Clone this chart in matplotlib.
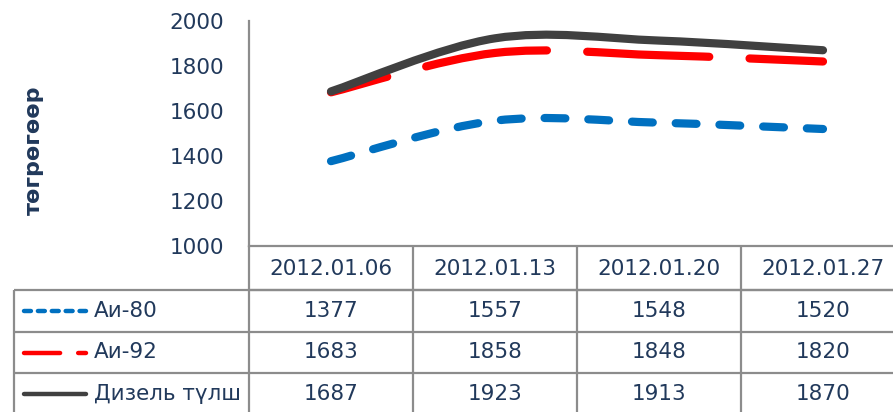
import matplotlib
matplotlib.use("Agg")
import matplotlib.pyplot as plt
import numpy as np
from matplotlib.lines import Line2D
from matplotlib.patches import PathPatch
from matplotlib.path import Path

plt.rcParams["lines.scale_dashes"] = False
plt.rcParams["font.family"] = ["DejaVu Sans"]

# data
dates = ["2012.01.06", "2012.01.13", "2012.01.20", "2012.01.27"]
series_names = ["Аи-80", "Аи-92", "Дизель түлш"]
ai80 = [1377, 1557, 1548, 1520]
ai92 = [1683, 1858, 1848, 1820]
diesel = [1687, 1923, 1913, 1870]
y_ticks = [1000, 1200, 1400, 1600, 1800, 2000]
y_label = "төгрөгөөр"

TEXT = "#21395B"
GRID = "#8C8C8C"
W, H = 893, 412

styles = [
    dict(color="#0070C0", ls=(0, (15, 16.5))),
    dict(color="#FF0000", ls=(46, (88, 29))),
    dict(color="#404040", ls="solid"),
]
LW = 5.9


def smooth_path(xs, ys):
    # bezier segments like excel's smoothed line
    pts = np.column_stack([xs, ys]).astype(float)
    ext = np.vstack([pts[0], pts, pts[-1]])
    verts = [pts[0]]
    codes = [Path.MOVETO]
    for i in range(len(pts) - 1):
        p0, p1, p2, p3 = ext[i], ext[i + 1], ext[i + 2], ext[i + 3]
        verts += [p1 + (p2 - p0) / 6, p2 - (p3 - p1) / 6, p2]
        codes += [Path.CURVE4] * 3
    return Path(verts, codes)


fig = plt.figure(figsize=(W / 100, H / 100), dpi=100)

ax_left, ax_right, ax_top, ax_bot = 249, 905, 21, 246
ax = fig.add_axes([ax_left / W, 1 - ax_bot / H, (ax_right - ax_left) / W, (ax_bot - ax_top) / H])
ax.set_xlim(-0.5, len(dates) - 0.5)
ax.set_ylim(1000, 2000)
ax.set_yticks(y_ticks)
ax.set_yticklabels([str(t) for t in y_ticks])
ax.set_xticks([])
ax.tick_params(axis="y", length=0, pad=18, labelsize=15.5, labelcolor=TEXT)
for s in ["top", "right"]:
    ax.spines[s].set_visible(False)
for s in ["left", "bottom"]:
    ax.spines[s].set_color(GRID)
    ax.spines[s].set_linewidth(1.6)

x = np.arange(len(dates))
for vals, st in zip([ai80, ai92, diesel], styles):
    patch = PathPatch(smooth_path(x, vals), fill=False, edgecolor=st["color"],
                      linewidth=LW, linestyle=st["ls"], capstyle="round",
                      joinstyle="round", clip_on=False)
    ax.add_patch(patch)

fig.text(34 / W, 1 - 150 / H, y_label, rotation=90, ha="center", va="center",
         fontsize=16, fontweight="bold", color=TEXT)

# data table below the chart, in pixel coordinates
tab = fig.add_axes([0, 0, 1, 1])
tab.set_xlim(0, W)
tab.set_ylim(H, 0)
tab.axis("off")

col_w = (ax_right - ax_left) / len(dates)
col_edges = [ax_left + i * col_w for i in range(len(dates) + 1)]
row_edges = [246, 290, 332, 373, 415]
key_left = 14

lk = dict(color=GRID, lw=1.6, solid_capstyle="butt")
for xe in col_edges:
    tab.plot([xe, xe], [row_edges[0], row_edges[-1]], **lk)
tab.plot([key_left, key_left], [row_edges[1], row_edges[-1]], **lk)
tab.plot([ax_left, W + 20], [row_edges[1], row_edges[1]], **lk)
for ye in row_edges[1:]:
    tab.plot([key_left, W + 20], [ye, ye], **lk)

fs = 15.5
for i, d in enumerate(dates):
    cx = (col_edges[i] + col_edges[i + 1]) / 2
    tab.text(cx, (row_edges[0] + row_edges[1]) / 2 + 1, d, ha="center", va="center",
             fontsize=fs, color=TEXT)

key_styles = [(0, (5, 5)), (0, (26, 13)), "solid"]
for r, (name, vals, st) in enumerate(zip(series_names, [ai80, ai92, diesel], styles)):
    cy = (row_edges[r + 1] + row_edges[r + 2]) / 2
    tab.add_line(Line2D([24, 86], [cy, cy], color=st["color"], lw=3.2,
                        linestyle=key_styles[r],
                        solid_capstyle="round", dash_capstyle="round"))
    tab.text(94, cy, name, ha="left", va="center", fontsize=fs, color=TEXT)
    for i, v in enumerate(vals):
        cx = (col_edges[i] + col_edges[i + 1]) / 2
        tab.text(cx, cy, str(v), ha="center", va="center", fontsize=fs, color=TEXT)

fig.savefig("out.png", dpi=100)
